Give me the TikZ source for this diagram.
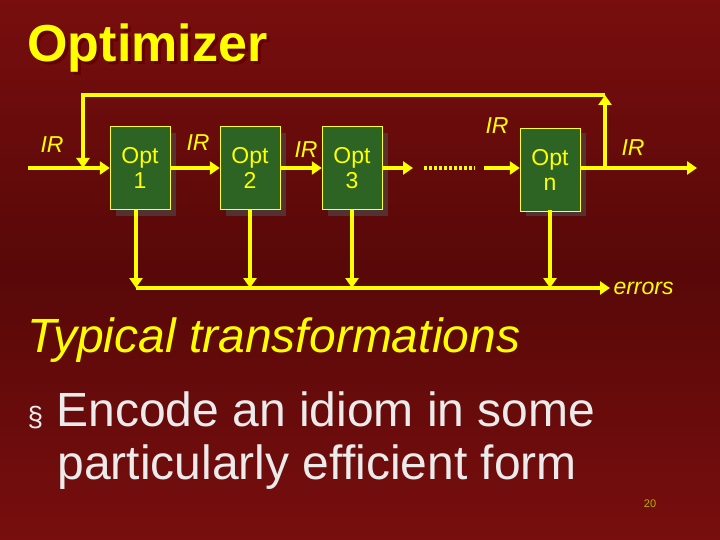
\documentclass[tikz,border=0pt]{standalone}
\usepackage{fontspec}
\setmainfont{Liberation Sans}
\usetikzlibrary{arrows.meta}
\definecolor{yel}{RGB}{255,255,0}
\definecolor{bgtop}{RGB}{120,14,14}
\definecolor{bgmid}{RGB}{88,8,8}
\definecolor{boxg}{RGB}{45,100,35}
\tikzset{
 optbox/.style={draw=yel!80!white,fill=boxg,text=yel,font=\fontsize{23}{25}\selectfont,align=center,minimum width=60pt,minimum height=83pt,inner sep=0pt},
 shad/.style={fill=gray!60!black,opacity=0.6},
 flow/.style={draw=yel,line width=4pt,-{Triangle[width=13pt,length=10pt]}},
 yline/.style={draw=yel,line width=4pt},
 lab/.style={text=yel,font=\itshape\fontsize{23}{25}\selectfont}
}
\begin{document}
\begin{tikzpicture}[x=1pt,y=-1pt]
\useasboundingbox (0,0) rectangle (720,540);
\shade[top color=bgtop,bottom color=bgmid] (0,0) rectangle (720,270);
\shade[top color=bgmid,bottom color=bgtop] (0,270) rectangle (720,540);
\node[anchor=west,text=black!60!red,font=\bfseries\fontsize{52}{56}\selectfont] at (27,51) {Optimizer};
\node[anchor=west,text=yel,font=\bfseries\fontsize{52}{56}\selectfont] (title) at (24,48) {Optimizer};
% shadows
\foreach \x in {110,220,322,520}{
 \fill[shad] (\x+6,133) rectangle (\x+66,216);}
\node[optbox] (o1) at (140,168) {Opt\\1};
\node[optbox] (o2) at (250,168) {Opt\\2};
\node[optbox] (o3) at (352,168) {Opt\\3};
\node[optbox] (on) at (550,170) {Opt\\n};
\coordinate (in) at (28,168);
\coordinate (fbl) at (83,95);
\coordinate (fbr) at (605,95);
\coordinate (split) at (605,168);
\coordinate (out) at (697,168);
\coordinate (d3) at (413,168);
\coordinate (dotsA) at (424,168);
\coordinate (dotsB) at (475,168);
\coordinate (dn) at (484,168);
\coordinate (bl) at (136,288);
\coordinate (br) at (610,288);
\draw[flow] (in) -- (o1.west);
\draw[flow] (o1.east) -- (o2.west);
\draw[flow] (o2.east) -- (o3.west);
\draw[flow] (o3.east) -- (d3);
\draw[yel,line width=4pt,dash pattern=on 3pt off 2pt] (dotsA) -- (dotsB);
\draw[flow] (dn) -- (on.west|-dn);
\draw[yline] (on.east|-split) -- (split);
\draw[flow] (split) -- (out);
\draw[flow] (split) -- (fbr);
\draw[flow] (fbr) -- (fbl) -- (83,168);
\foreach \x in {136,250,352,550}{
 \draw[flow] (\x,210) -- (\x,288);}
\draw[flow] (bl) -- (br);
\node[lab] (l1) at (52,145) {IR};
\node[lab] (l2) at (198,143) {IR};
\node[lab] (l3) at (306,150) {IR};
\node[lab] (l4) at (497,126) {IR};
\node[lab] (l5) at (633,148) {IR};
\node[lab,anchor=west] (err) at (610,288) {errors};
\node[anchor=west,text=yel,font=\itshape\fontsize{48}{52}\selectfont] (t1) at (24,340) {Typical transformations};
\node[anchor=west,text=white!92!black,font=\fontsize{48}{52}\selectfont] (t2) at (24,410) {{\fontsize{28}{28}\selectfont\S}\ Encode an idiom in some};
\node[anchor=west,text=white!92!black,font=\fontsize{48}{52}\selectfont] (t3) at (54,467) {particularly efficient form};
\node[text=yel!70!black,font=\fontsize{11}{12}\selectfont] (pg) at (650,504) {20};
\end{tikzpicture}
\end{document}
